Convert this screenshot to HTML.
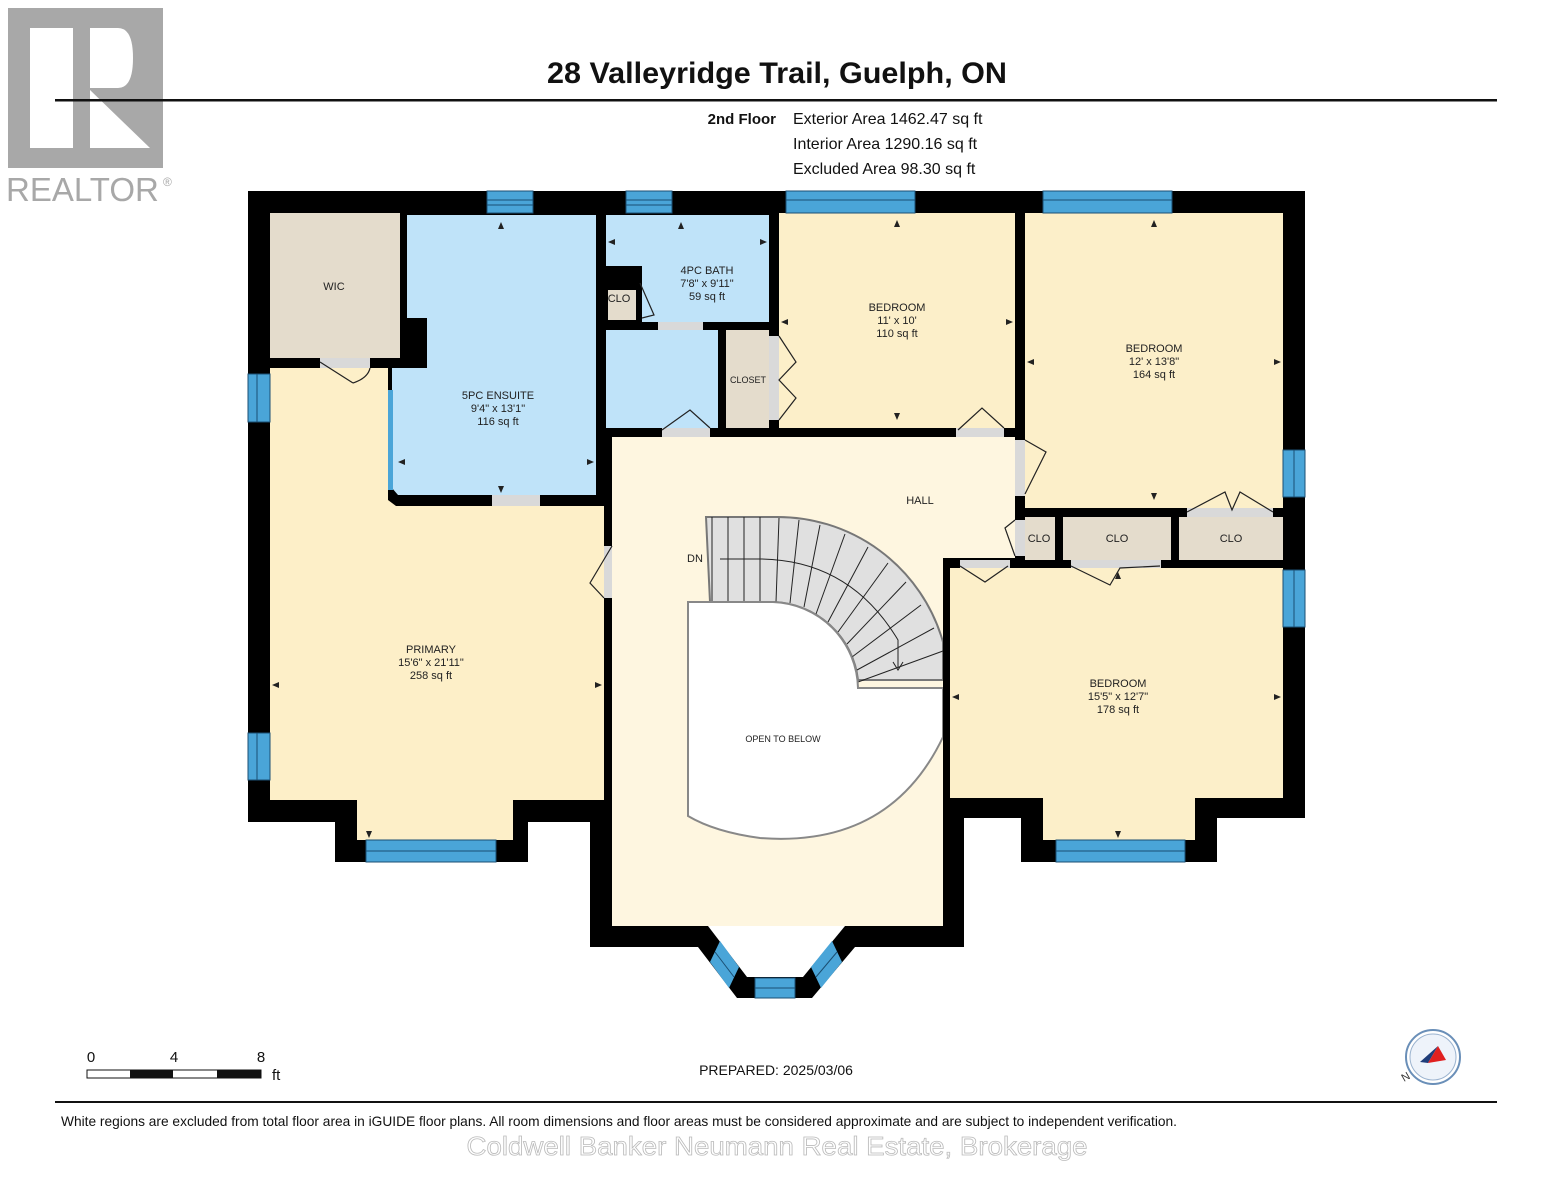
<!DOCTYPE html>
<html><head><meta charset="utf-8"><style>
html,body{margin:0;padding:0;background:#fff;}
svg{display:block;font-family:"Liberation Sans",Arial,sans-serif;}
</style></head><body>
<svg width="1553" height="1200" viewBox="0 0 1553 1200" xmlns="http://www.w3.org/2000/svg">
<!-- logo -->
<rect x="8" y="8" width="155" height="160" fill="#a8a8a8"/>
<rect x="30" y="28" width="43" height="120" fill="#fff"/>
<path d="M90 28 H118 Q133 28 133 58 Q133 88 118 88 H90 Z" fill="#fff"/>
<path d="M90 90 L150 148 H90 Z" fill="#fff"/>
<text x="6" y="201" font-size="33" fill="#a8a8a8">REALTOR</text>
<text x="163" y="186" font-size="12" fill="#a8a8a8">®</text>
<!-- header -->
<text x="777" y="83" font-size="30" font-weight="bold" text-anchor="middle" fill="#111" textLength="460" lengthAdjust="spacingAndGlyphs">28 Valleyridge Trail, Guelph, ON</text>
<rect x="55" y="99" width="1442" height="2.5" fill="#111"/>
<text x="776" y="124" font-size="15" font-weight="bold" text-anchor="end" fill="#111">2nd Floor</text>
<text x="793" y="124" font-size="16" fill="#111">Exterior Area 1462.47 sq ft</text>
<text x="793" y="149" font-size="16" fill="#111">Interior Area 1290.16 sq ft</text>
<text x="793" y="174" font-size="16" fill="#111">Excluded Area 98.30 sq ft</text>

<!-- walls -->
<polygon fill="#000" points="248,191 1305,191 1305,818 1217,818 1217,862 1021,862 1021,818 964,818 964,947 855,947 812,998 737,998 698,947 590,947 590,822 528,822 528,862 335,862 335,822 248,822"/>
<!-- bay interior -->
<polygon fill="#fff" points="708,926 845,926 803,977 747,977"/>
<!-- rooms -->
<rect x="270" y="213" width="130" height="145" fill="#e4dccc"/>
<polygon fill="#bfe3f9" points="407,215 596,215 596,495 398,495 392,488 392,368 427,368 427,318 407,318"/>
<polygon fill="#fdefc8" points="270,368 388,368 388,500 396,506 604,506 604,800 513,800 513,840 357,840 357,800 270,800"/>
<rect x="606" y="215" width="163" height="107" fill="#bfe3f9"/>
<rect x="604" y="266" width="38" height="56" fill="#000"/>
<rect x="608" y="290" width="28" height="30" fill="#e4dccc"/>
<rect x="606" y="330" width="112" height="98" fill="#bfe3f9"/>
<rect x="726" y="330" width="43" height="98" fill="#e4dccc"/>
<rect x="779" y="213" width="236" height="215" fill="#fcefc9"/>
<rect x="1025" y="213" width="258" height="295" fill="#fcefc9"/>
<rect x="1025" y="517" width="30" height="43" fill="#e4dccc"/>
<rect x="1063" y="517" width="108" height="43" fill="#e4dccc"/>
<rect x="1179" y="517" width="104" height="43" fill="#e4dccc"/>
<polygon fill="#fcefc9" points="950,568 1283,568 1283,798 1195,798 1195,840 1043,840 1043,798 950,798"/>
<polygon fill="#fef6e0" points="612,437 1015,437 1015,558 943,558 943,926 612,926"/>
<!-- door openings (grey) -->
<g fill="#d9d9d9">
<rect x="320" y="358" width="50" height="10"/>
<rect x="492" y="495" width="48" height="11"/>
<rect x="658" y="322" width="45" height="8"/>
<rect x="662" y="428" width="48" height="9"/>
<rect x="769" y="336" width="10" height="84"/>
<rect x="956" y="428" width="48" height="9"/>
<rect x="1015" y="440" width="10" height="56"/>
<rect x="1015" y="520" width="10" height="36"/>
<rect x="960" y="560" width="50" height="8"/>
<rect x="1071" y="560" width="90" height="8"/>
<rect x="1187" y="508" width="86" height="9"/>
<rect x="604" y="546" width="8" height="52"/>
</g>
<!-- windows -->
<g fill="#4aa5d8" stroke="#1b4f73" stroke-width="1">
<rect x="487" y="191" width="46" height="22"/>
<rect x="626" y="191" width="46" height="22"/>
<rect x="786" y="191" width="129" height="22"/>
<rect x="1043" y="191" width="129" height="22"/>
<rect x="248" y="374" width="22" height="48"/>
<rect x="248" y="733" width="22" height="47"/>
<rect x="1283" y="450" width="22" height="47"/>
<rect x="1283" y="570" width="22" height="57"/>
<rect x="366" y="840" width="130" height="22"/>
<rect x="1056" y="840" width="129" height="22"/>
<rect x="755" y="978" width="40" height="20"/>
<rect x="388" y="390" width="5" height="100" stroke="none"/>
</g>
<polygon fill="#4aa5d8" points="710,962 729,988 739,967 720,941"/>
<polygon fill="#4aa5d8" points="842,962 821,988 811,967 832,941"/>
<g stroke="#1b4f73" stroke-width="1">
<line x1="715" y1="952" x2="734" y2="977"/><line x1="837" y1="952" x2="816" y2="977"/>
<line x1="487" y1="200" x2="533" y2="200"/><line x1="487" y1="205" x2="533" y2="205"/>
<line x1="626" y1="200" x2="672" y2="200"/><line x1="626" y1="205" x2="672" y2="205"/>
<line x1="786" y1="200" x2="915" y2="200"/><line x1="1043" y1="200" x2="1172" y2="200"/>
<line x1="257" y1="374" x2="257" y2="422"/><line x1="257" y1="733" x2="257" y2="780"/>
<line x1="1294" y1="450" x2="1294" y2="497"/><line x1="1294" y1="570" x2="1294" y2="627"/>
<line x1="366" y1="851" x2="496" y2="851"/><line x1="1056" y1="851" x2="1185" y2="851"/>
<line x1="755" y1="988" x2="795" y2="988"/>
</g>
<!-- door swings -->
<g fill="none" stroke="#222" stroke-width="1.2">
<path d="M320 362 L353 383 M370 368 Q368 378 353 383"/>
<path d="M612 546 L590 583 L604 598"/>
<path d="M662 430 L690 410 L710 428"/>
<path d="M958 430 L982 408 L1004 428"/>
<path d="M1025 440 L1046 452 L1025 494"/>
<path d="M1015 556 L1005 528 L1015 520"/>
<path d="M960 566 L985 582 L1008 566"/>
<path d="M1071 566 L1110 585 L1120 568 L1160 566"/>
<path d="M1187 512 L1225 492 L1232 510 L1240 492 L1273 512"/>
<path d="M779 336 L796 362 L779 380 L796 398 L779 420"/>
<path d="M640 283 L654 315 L642 318"/>
</g>
<!-- stairs -->
<path d="M706 517 H773 A172 172 0 0 1 943 642 V680 H858 A88 88 0 0 0 773 602 H710 Z" fill="#e0e0e0" stroke="#777" stroke-width="2"/>
<g stroke="#222" stroke-width="1">
<line x1="712" y1="517" x2="712" y2="602"/><line x1="728" y1="517" x2="728" y2="602"/>
<line x1="744" y1="517" x2="744" y2="602"/><line x1="760" y1="517" x2="760" y2="602"/>
<line x1="779" y1="518" x2="776" y2="602"/>
<line x1="799" y1="520" x2="790" y2="603"/>
<line x1="820" y1="525" x2="804" y2="607"/>
<line x1="845" y1="534" x2="816" y2="614"/>
<line x1="868" y1="547" x2="828" y2="622"/>
<line x1="888" y1="563" x2="838" y2="632"/>
<line x1="906" y1="582" x2="847" y2="644"/>
<line x1="921" y1="605" x2="852" y2="657"/>
<line x1="934" y1="628" x2="857" y2="670"/>
<line x1="943" y1="651" x2="858" y2="682"/>
</g>
<path d="M720 559 H760 Q850 560 898 640 L898 668" fill="none" stroke="#222" stroke-width="1"/>
<path d="M893 662 L898 670 L903 662" fill="none" stroke="#222"/>
<!-- open to below -->
<path d="M688 602 H773 A88 88 0 0 1 858 688 H943 V737 Q890 848 760 838 Q715 832 688 816 Z" fill="#fff" stroke="#888" stroke-width="2"/>
<rect x="943" y="560" width="7" height="258" fill="#000"/>

<!-- labels -->
<g font-size="11" fill="#222" text-anchor="middle">
<text x="334" y="290">WIC</text>
<text x="498" y="399">5PC ENSUITE</text><text x="498" y="412">9'4" x 13'1"</text><text x="498" y="425">116 sq ft</text>
<text x="707" y="274">4PC BATH</text><text x="707" y="287">7'8" x 9'11"</text><text x="707" y="300">59 sq ft</text>
<text x="619" y="302">CLO</text>
<text x="748" y="383" font-size="9">CLOSET</text>
<text x="897" y="311">BEDROOM</text><text x="897" y="324">11' x 10'</text><text x="897" y="337">110 sq ft</text>
<text x="1154" y="352">BEDROOM</text><text x="1154" y="365">12' x 13'8"</text><text x="1154" y="378">164 sq ft</text>
<text x="920" y="504">HALL</text>
<text x="1039" y="542">CLO</text><text x="1117" y="542">CLO</text><text x="1231" y="542">CLO</text>
<text x="695" y="562">DN</text>
<text x="431" y="653">PRIMARY</text><text x="431" y="666">15'6" x 21'11"</text><text x="431" y="679">258 sq ft</text>
<text x="1118" y="687">BEDROOM</text><text x="1118" y="700">15'5" x 12'7"</text><text x="1118" y="713">178 sq ft</text>
<text x="783" y="742" font-size="9">OPEN TO BELOW</text>
</g>
<!-- dimension arrowheads -->
<g fill="#222">
<path d="M501 222 l-3 7 h6z"/><path d="M681 222 l-3 7 h6z"/><path d="M897 220 l-3 7 h6z"/><path d="M1154 220 l-3 7 h6z"/>
<path d="M501 493 l-3 -7 h6z"/><path d="M897 420 l-3 -7 h6z"/><path d="M1154 500 l-3 -7 h6z"/><path d="M1118 572 l-3 7 h6z"/>
<path d="M369 838 l-3 -7 h6z"/><path d="M1118 838 l-3 -7 h6z"/>
<path d="M398 462 l7 -3 v6z"/><path d="M594 462 l-7 -3 v6z"/><path d="M608 242 l7 -3 v6z"/><path d="M767 242 l-7 -3 v6z"/>
<path d="M781 322 l7 -3 v6z"/><path d="M1013 322 l-7 -3 v6z"/><path d="M1027 362 l7 -3 v6z"/><path d="M1281 362 l-7 -3 v6z"/>
<path d="M272 685 l7 -3 v6z"/><path d="M602 685 l-7 -3 v6z"/><path d="M952 697 l7 -3 v6z"/><path d="M1281 697 l-7 -3 v6z"/>
</g>

<!-- scale -->
<g font-size="15" fill="#111">
<text x="91" y="1062" text-anchor="middle">0</text><text x="174" y="1062" text-anchor="middle">4</text><text x="261" y="1062" text-anchor="middle">8</text>
<text x="272" y="1080">ft</text>
</g>
<rect x="87" y="1070" width="174" height="8" fill="#fff" stroke="#111" stroke-width="1"/>
<rect x="130" y="1070" width="43" height="8" fill="#111"/><rect x="217" y="1070" width="44" height="8" fill="#111"/>
<text x="776" y="1075" font-size="14" text-anchor="middle" fill="#111">PREPARED: 2025/03/06</text>
<!-- compass -->
<circle cx="1433" cy="1057" r="27" fill="#fff" stroke="#6a8fb8" stroke-width="2"/>
<circle cx="1433" cy="1057" r="23" fill="#eef3fa" stroke="#9bb3cf" stroke-width="1"/>
<polygon points="1438,1046 1428,1063 1420,1062" fill="#1f3d7a"/>
<polygon points="1438,1046 1446,1060 1428,1063" fill="#e02020"/>
<text x="1404" y="1082" font-size="11" fill="#333" transform="rotate(-30 1404 1082)">N</text>
<rect x="55" y="1101" width="1442" height="2" fill="#111"/>
<text x="61" y="1126" font-size="13.7" fill="#111" textLength="1116" lengthAdjust="spacingAndGlyphs">White regions are excluded from total floor area in iGUIDE floor plans. All room dimensions and floor areas must be considered approximate and are subject to independent verification.</text>
<text x="777" y="1155" font-size="26" text-anchor="middle" fill="#fff" stroke="#bbb" stroke-width="0.8" textLength="621" lengthAdjust="spacingAndGlyphs">Coldwell Banker Neumann Real Estate, Brokerage</text>
</svg>
</body></html>
